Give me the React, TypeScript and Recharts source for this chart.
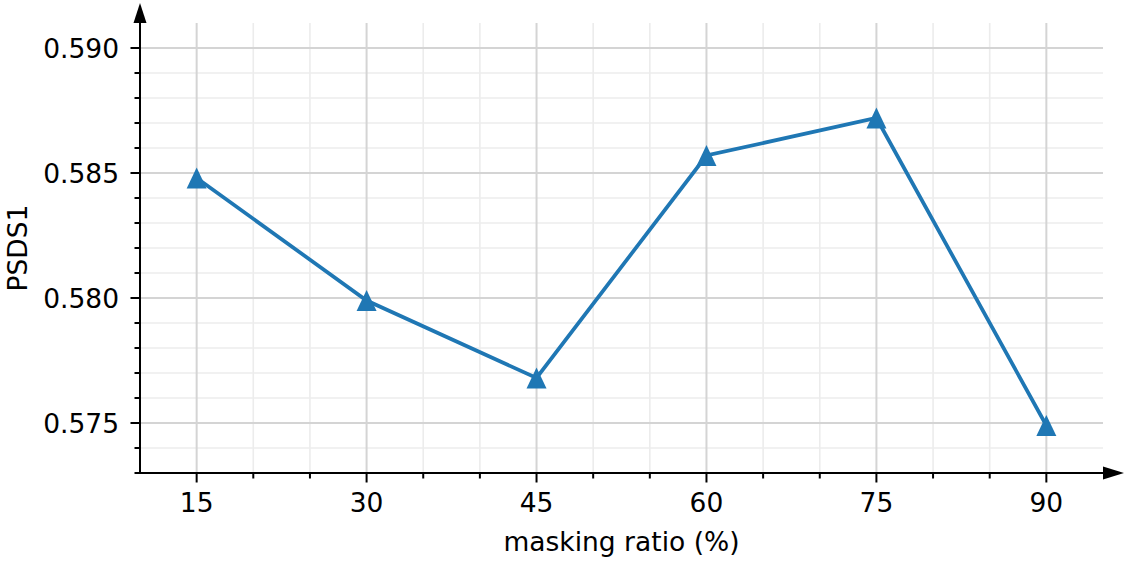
import React from "react";
import { LineChart, Line, XAxis, YAxis, ReferenceLine } from "recharts";

// masking ratio sweep vs PSDS1
const ratios = [15, 30, 45, 60, 75, 90];
const psds1 = [0.5848, 0.5799, 0.5768, 0.5857, 0.5872, 0.5749];

const xMajor = [15, 30, 45, 60, 75, 90];
const xMinor = [20, 25, 35, 40, 50, 55, 65, 70, 80, 85];
const yMajor = [0.575, 0.58, 0.585, 0.59];
const yMinor = [0.573, 0.574, 0.576, 0.577, 0.578, 0.579, 0.581, 0.582, 0.583, 0.584, 0.586, 0.587, 0.588, 0.589];

const data = ratios.map((r, i) => ({ ratio: r, psds1: psds1[i] }));

const FONT = "'DejaVu Sans', sans-serif";
const FS = 26.5;
const BLUE = "#1f77b4";

const isMajor = (list: number[], v: number) => list.some((m) => Math.abs(m - v) < 1e-9);

const XTick = (props: any) => {
  const { x, y, payload } = props;
  const major = isMajor(xMajor, payload.value);
  return (
    <g>
      <line x1={x} x2={x} y1={y} y2={y + (major ? 9.5 : 5.5)} stroke="#000" strokeWidth={2} />
      {major && (
        <text x={x} y={y + 39} textAnchor="middle" fontSize={FS} fontFamily={FONT} fill="#000">
          {payload.value}
        </text>
      )}
    </g>
  );
};

const YTick = (props: any) => {
  const { x, y, payload } = props;
  const major = isMajor(yMajor, payload.value);
  return (
    <g>
      <line x1={x - (major ? 9.5 : 5.5)} x2={x} y1={y} y2={y} stroke="#000" strokeWidth={2} />
      {major && (
        <text x={x - 21} y={y + 9.5} textAnchor="end" fontSize={FS} fontFamily={FONT} fill="#000">
          {payload.value.toFixed(3)}
        </text>
      )}
    </g>
  );
};

const XDecor = (props: any) => {
  const { x, y, width } = props.viewBox;
  const end = x + width;
  return (
    <g>
      <polygon points={`${end},${y - 6.5} ${end + 21},${y} ${end},${y + 6.5}`} fill="#000" />
      <text x={x + width / 2} y={y + 78} textAnchor="middle" fontSize={FS} fontFamily={FONT} fill="#000">
        masking ratio (%)
      </text>
    </g>
  );
};

const YDecor = (props: any) => {
  const { x, y, width, height } = props.viewBox;
  const ax = x + width;
  const cy = y + height / 2;
  return (
    <g>
      <polygon points={`${ax - 6.5},${y} ${ax},${y - 20} ${ax + 6.5},${y}`} fill="#000" />
      <text
        x={27}
        y={cy}
        transform={`rotate(-90, 27, ${cy})`}
        textAnchor="middle"
        fontSize={FS}
        fontFamily={FONT}
        fill="#000"
      >
        PSDS1
      </text>
    </g>
  );
};

const Triangle = (props: any) => {
  const { cx, cy, index } = props;
  return (
    <polygon
      key={`tri-${index}`}
      points={`${cx},${cy - 10.5} ${cx - 10},${cy + 10.5} ${cx + 10},${cy + 10.5}`}
      fill={BLUE}
    />
  );
};

export default function App() {
  return (
    <div style={{ position: "absolute", left: 0, top: 0, background: "#fff" }}>
      <LineChart width={1130} height={562} data={data} margin={{ top: 23, right: 27, bottom: 29, left: 0 }}>
        {xMinor.map((v) => (
          <ReferenceLine key={`xm-${v}`} x={v} stroke="#ececec" strokeWidth={1.6} />
        ))}
        {yMinor.map((v) => (
          <ReferenceLine key={`ym-${v}`} y={v} stroke="#ececec" strokeWidth={1.6} />
        ))}
        {xMajor.map((v) => (
          <ReferenceLine key={`xM-${v}`} x={v} stroke="#d4d4d4" strokeWidth={2} />
        ))}
        {yMajor.map((v) => (
          <ReferenceLine key={`yM-${v}`} y={v} stroke="#d4d4d4" strokeWidth={2} />
        ))}
        <XAxis
          dataKey="ratio"
          type="number"
          domain={[10, 95]}
          allowDataOverflow
          ticks={[...xMajor, ...xMinor].sort((a, b) => a - b)}
          interval={0}
          height={60}
          tickSize={0}
          tickMargin={0}
          tickLine={false}
          axisLine={{ stroke: "#000", strokeWidth: 2 }}
          tick={<XTick />}
          label={<XDecor />}
        />
        <YAxis
          type="number"
          domain={[0.573, 0.591]}
          allowDataOverflow
          ticks={[...yMajor, ...yMinor].sort((a, b) => a - b)}
          interval={0}
          width={140}
          tickSize={0}
          tickMargin={0}
          tickLine={false}
          axisLine={{ stroke: "#000", strokeWidth: 2 }}
          tick={<YTick />}
          label={<YDecor />}
        />
        <Line
          dataKey="psds1"
          stroke={BLUE}
          strokeWidth={3.75}
          dot={<Triangle />}
          activeDot={false}
          isAnimationActive={false}
        />
      </LineChart>
    </div>
  );
}
